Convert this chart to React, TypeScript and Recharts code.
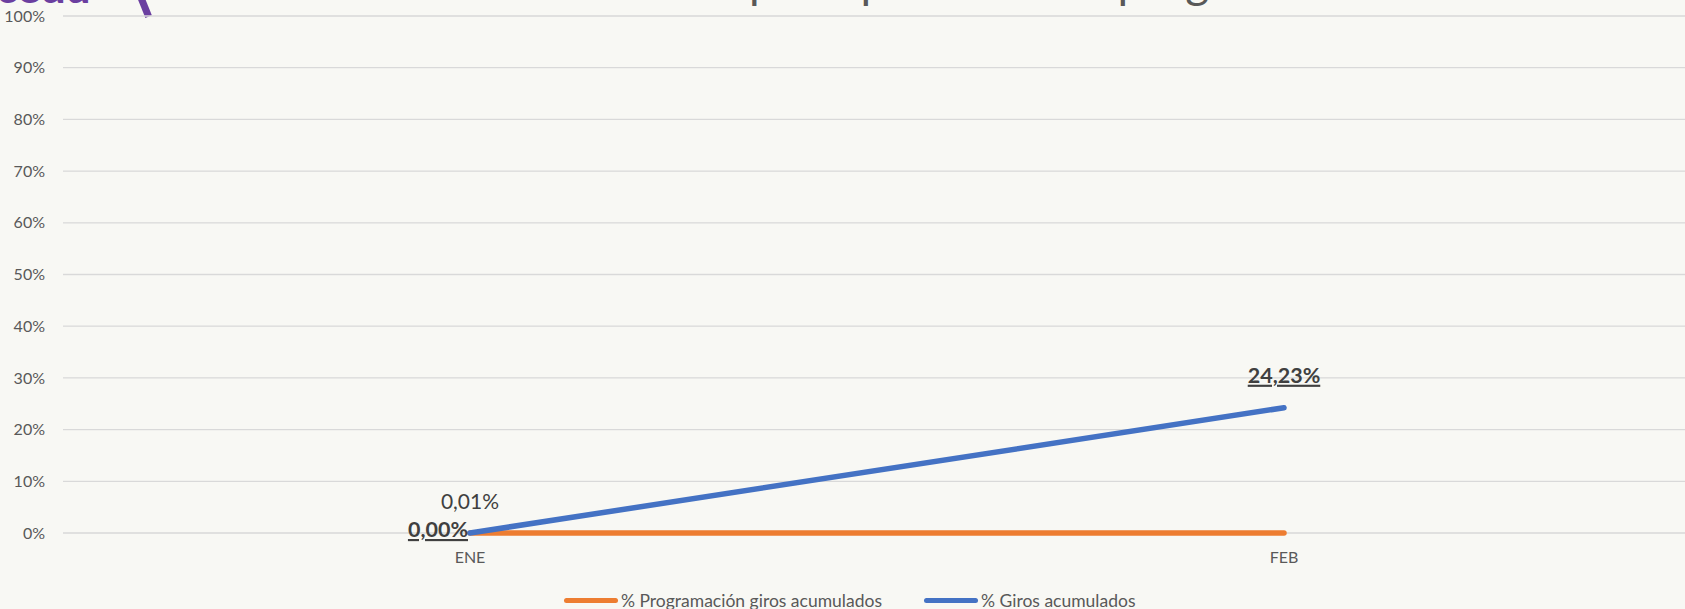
import { LineChart, Line, XAxis, YAxis, CartesianGrid } from 'recharts';

const months = ['ENE', 'FEB'];
const programacion = [0.01, 0.01];
const giros = [0, 24.23];
const yTicks = [0, 10, 20, 30, 40, 50, 60, 70, 80, 90, 100];

const data = months.map((m, i) => ({ name: m, programacion: programacion[i], giros: giros[i] }));

const ORANGE = '#ED7D31';
const BLUE = '#4472C4';
const FONT = 'Lato, "Open Sans", sans-serif';

const fmt = (v: number) => v.toFixed(2).replace('.', ',') + '%';

// only the first point of the orange series carries a label
function progLabel(props: any) {
  const { x, y, value, index } = props;
  if (index !== 0) return null;
  return (
    <text x={x} y={y - 24} textAnchor="middle" fill="#404040" fontSize={21} fontFamily={FONT}>
      {fmt(value)}
    </text>
  );
}

function girosLabel(props: any) {
  const { x, y, value, index } = props;
  const first = index === 0;
  return (
    <text
      x={first ? x - 2 : x}
      y={first ? y + 4 : y - 25}
      textAnchor={first ? 'end' : 'middle'}
      fill="#404040"
      fontSize={21.5}
      fontWeight={700}
      fontFamily={FONT}
      style={{ textDecoration: 'underline' }}
    >
      {fmt(value)}
    </text>
  );
}

export default function App() {
  return (
    <div style={{ position: 'fixed', left: 0, top: 0, width: 1685, height: 609, overflow: 'hidden', background: '#F8F8F4', fontFamily: FONT }}>
      {/* logo, cut at the top */}
      <div style={{ position: 'absolute', left: -4, top: -36, fontSize: 44, fontWeight: 900, color: '#6B3FA0', whiteSpace: 'nowrap', lineHeight: '44px' }}>
        cedu
      </div>
      <div style={{ position: 'absolute', left: 138, top: -20, width: 7, height: 38, background: '#6B3FA0', transform: 'rotate(-22deg)' }} />

      {/* title, mostly outside the picture */}
      <div style={{ position: 'absolute', left: 749, top: -42, fontSize: 46, lineHeight: '46px', color: '#595959', whiteSpace: 'nowrap' }}>
        <span style={{ position: 'absolute', right: '100%' }}>Avance del&nbsp;</span>
        presupuesto de la programación
      </div>

      <div style={{ position: 'absolute', left: 0, top: 0 }}>
        <LineChart width={1691} height={609} data={data} margin={{ top: 16, right: 0, bottom: 46, left: 0 }}>
          <CartesianGrid vertical={false} stroke="#D9D9D9" strokeWidth={1.3} />
          <XAxis
            dataKey="name"
            scale="band"
            axisLine={false}
            tickLine={false}
            tickSize={0}
            tickMargin={19}
            height={30}
            tick={{ fill: '#595959', fontSize: 16, fontFamily: FONT }}
          />
          <YAxis
            domain={[0, 100]}
            ticks={yTicks}
            interval={0}
            width={63}
            axisLine={false}
            tickLine={false}
            tickSize={0}
            tickMargin={18}
            tickFormatter={(v: number) => `${v}%`}
            tick={{ fill: '#595959', fontSize: 16, fontFamily: FONT }}
          />
          <Line
            dataKey="programacion"
            stroke={ORANGE}
            strokeWidth={5.5}
            strokeLinecap="round"
            dot={false}
            activeDot={false}
            label={progLabel}
            isAnimationActive={false}
          />
          <Line
            dataKey="giros"
            stroke={BLUE}
            strokeWidth={5.5}
            strokeLinecap="round"
            dot={false}
            activeDot={false}
            label={girosLabel}
            isAnimationActive={false}
          />
        </LineChart>
      </div>

      {/* legend */}
      <div style={{ position: 'absolute', left: 564, top: 590, display: 'flex', gap: 42, fontSize: 17.5, color: '#595959', alignItems: 'center', whiteSpace: 'nowrap' }}>
        {[
          { name: '% Programación giros acumulados', color: ORANGE },
          { name: '% Giros acumulados', color: BLUE },
        ].map((item) => (
          <div key={item.name} style={{ display: 'flex', alignItems: 'center' }}>
            <span style={{ display: 'inline-block', width: 54, height: 5, borderRadius: 3, background: item.color, marginRight: 3 }} />
            <span>{item.name}</span>
          </div>
        ))}
      </div>
    </div>
  );
}
